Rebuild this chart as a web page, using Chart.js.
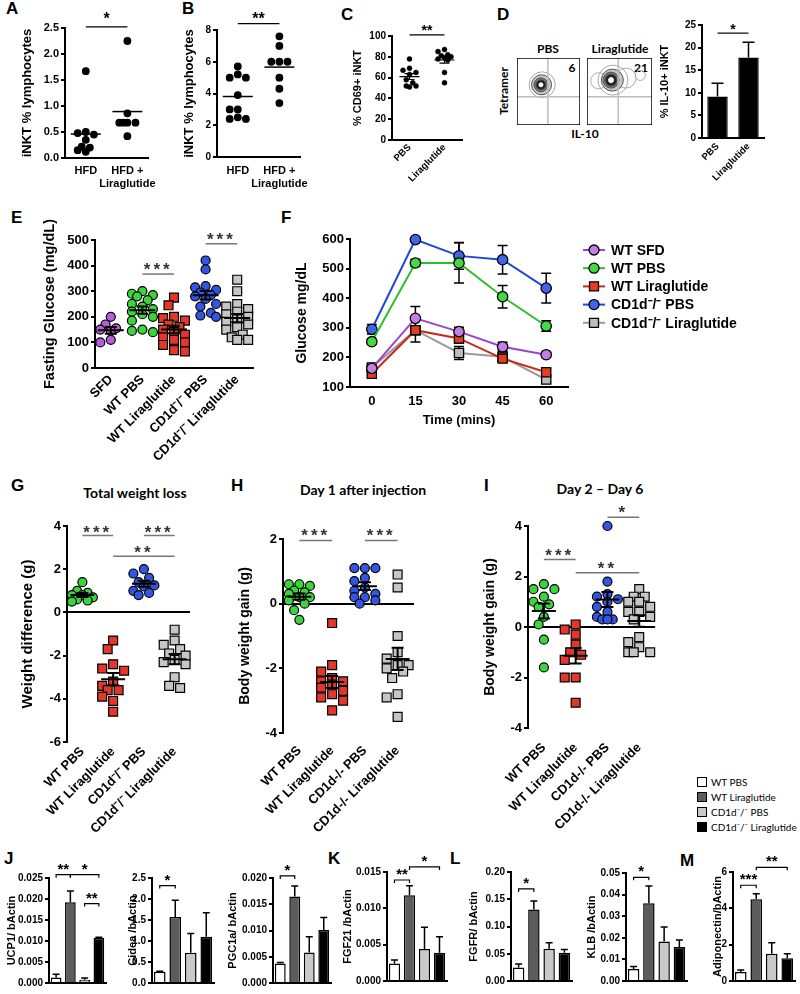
<!DOCTYPE html>
<html>
<head>
<meta charset="utf-8">
<title>Liraglutide iNKT figure</title>
<script src="https://cdn.jsdelivr.net/npm/chart.js@4.4.1/dist/chart.umd.min.js"></script>
<style>
  body { margin: 0; background: #fff; }
  #page { position: relative; width: 800px; height: 994px; overflow: hidden; background: #fff; font-family: "Liberation Sans", Arial, sans-serif; }
  #page canvas { position: absolute; }
  .t { position: absolute; white-space: nowrap; color: #000; line-height: 1; }
  .letter { font-weight: bold; font-size: 17px; }
  .ptitle { font-family: Lato, "Open Sans", sans-serif; font-weight: bold; font-size: 14px; transform: translate(-50%, -50%); }
  .flow { font-family: Lato, "Open Sans", sans-serif; font-weight: bold; font-size: 12px; transform: translate(-50%, -50%); }
  .leg { position: absolute; font-family: Lato, sans-serif; font-size: 10px; line-height: 1; white-space: nowrap; }
  .leg .box { display: inline-block; width: 8px; height: 8px; border: 1px solid #000; margin-right: 4px; vertical-align: -1px; }
</style>
</head>
<body>
<div id="page">
  <div class="t letter" style="left:6px;top:0px">A</div>
  <div class="t letter" style="left:182px;top:0px">B</div>
  <div class="t letter" style="left:341px;top:6px">C</div>
  <div class="t letter" style="left:497px;top:6px">D</div>
  <div class="t letter" style="left:11px;top:209px">E</div>
  <div class="t letter" style="left:281px;top:209px">F</div>
  <div class="t letter" style="left:11px;top:477px">G</div>
  <div class="t letter" style="left:231px;top:477px">H</div>
  <div class="t letter" style="left:484px;top:477px">I</div>
  <div class="t letter" style="left:4px;top:850px">J</div>
  <div class="t letter" style="left:328px;top:850px">K</div>
  <div class="t letter" style="left:450px;top:850px">L</div>
  <div class="t letter" style="left:680px;top:852px">M</div>

  <div class="t ptitle" style="left:135px;top:493px">Total weight loss</div>
  <div class="t ptitle" style="left:363px;top:490px">Day 1 after injection</div>
  <div class="t ptitle" style="left:600px;top:489px">Day 2 – Day 6</div>

  <div class="t flow" style="left:548px;top:49px">PBS</div>
  <div class="t flow" style="left:620px;top:49px">Liraglutide</div>
  <div class="t flow" style="left:504px;top:91px;transform:translate(-50%,-50%) rotate(-90deg)">Tetramer</div>
  <div class="t flow" style="left:585px;top:134px">IL-10</div>
  <div class="t flow" style="left:572px;top:68px">6</div>
  <div class="t flow" style="left:641px;top:68px">21</div>
</div>
<script>
const FONT = '"Liberation Sans", Arial, sans-serif';

// A, B: iNKT % lymphocytes
const hfdCats = ['HFD', ['HFD +', 'Liraglutide']];
const aHFD = [1.67, 0.5, 0.48, 0.45, 0.35, 0.22, 0.2, 0.15, 0.12];
const aHFDLira = [2.25, 0.86, 0.68, 0.68, 0.68, 0.68, 0.42];
const bHFD = [5.7, 5.2, 5.0, 5.0, 3.9, 3.0, 3.0, 2.5, 2.4, 2.4];
const bHFDLira = [7.6, 7.0, 6.0, 6.0, 6.0, 5.0, 4.3, 3.4];

// C: % CD69+ iNKT
const cCats = ['PBS', 'Liraglutide'];
const cPBS = [78, 69, 67, 65, 63, 58, 55, 52, 52, 51];
const cLira = [87, 85, 82, 81, 80, 79, 78, 77, 65, 55];

// D: % IL-10+ iNKT, plus the two flow plots (x, y in plot fraction, r in px)
const dCats = ['PBS', 'Liraglutide'];
const dIL10 = [9.2, 17.8];
const dIL10Err = [2.9, 3.4];
const flowPBS = [{x: 0.4, y: 0.6, r: 13}, {x: 0.39, y: 0.6, r: 10}, {x: 0.38, y: 0.6, r: 7}, {x: 0.38, y: 0.6, r: 5}, {x: 0.38, y: 0.6, r: 2}];
const flowLira = [{x: 0.82, y: 0.74, r: 5}, {x: 0.6, y: 0.7, r: 10}, {x: 0.18, y: 0.66, r: 8}, {x: 0.4, y: 0.67, r: 15},
                  {x: 0.39, y: 0.67, r: 11}, {x: 0.37, y: 0.67, r: 8}, {x: 0.37, y: 0.67, r: 6}, {x: 0.37, y: 0.67, r: 2.5}];
const flowFill = ['rgba(0,0,0,0)', '#c8c8c8', '#777', '#222', '#fff'];
const flowLiraFill = ['rgba(0,0,0,0)', 'rgba(0,0,0,0)', 'rgba(0,0,0,0)', 'rgba(0,0,0,0)', '#c8c8c8', '#777', '#222', '#fff'];

// E: fasting glucose (mg/dL)
const eCats = ['SFD', 'WT PBS', 'WT Liraglutide', 'CD1d⁻/⁻ PBS', 'CD1d⁻/⁻ Liraglutide'];
const eSFD = [200, 170, 155, 150, 145, 110, 100];
const eWTPBS = [300, 290, 285, 280, 265, 250, 240, 230, 220, 210, 200, 185, 150, 145, 140];
const eWTLira = [275, 245, 200, 195, 185, 170, 160, 150, 140, 130, 120, 110, 100, 90, 70, 65];
const eKOPBS = [420, 385, 320, 315, 305, 295, 285, 280, 270, 250, 240, 215, 205, 200];
const eKOLira = [345, 300, 250, 240, 230, 220, 210, 200, 190, 180, 170, 160, 150, 130, 120, 110, 110];

// F: glucose tolerance (mg/dL) with SEM
const fTimes = ['0', '15', '30', '45', '60'];
const fSFD = [163, 332, 287, 236, 209];
const fSFDErr = [8, 40, 15, 15, 8];
const fPBS = [253, 519, 519, 405, 306];
const fPBSErr = [8, 12, 68, 38, 18];
const fLira = [145, 292, 264, 196, 150];
const fLiraErr = [6, 8, 15, 10, 10];
const fKOPBS = [295, 598, 543, 530, 434];
const fKOPBSErr = [16, 6, 45, 48, 50];
const fKOLira = [166, 292, 215, 202, 125];
const fKOLiraErr = [8, 40, 22, 14, 8];

// G, H, I: weight change (g)
const gCats = ['WT PBS', 'WT Liraglutide', 'CD1d⁻/⁻ PBS', 'CD1d⁻/⁻ Liraglutide'];
const hCats = ['WT PBS', 'WT Liraglutide', 'CD1d-/- PBS', 'CD1d-/- Liraglutide'];
const gWTPBS = [1.4, 1.0, 0.9, 0.8, 0.8, 0.7, 0.6, 0.55, 0.5];
const gWTLira = [-1.3, -1.7, -2.4, -2.6, -2.7, -3.2, -3.4, -3.6, -3.6, -3.9, -4.1, -4.6];
const gKOPBS = [2.0, 1.8, 1.6, 1.4, 1.25, 1.2, 1.0, 0.9, 0.8];
const gKOLira = [-0.8, -1.3, -1.5, -1.7, -1.9, -2.0, -2.2, -2.3, -2.4, -3.0, -3.4, -3.5];
const hWTPBS = [0.6, 0.6, 0.55, 0.4, 0.35, 0.3, 0.2, 0.2, 0.1, 0.0, -0.2, -0.5];
const hWTLira = [-0.6, -1.9, -2.1, -2.3, -2.4, -2.4, -2.5, -2.6, -2.7, -2.8, -2.9, -3.0, -3.3];
const hKOPBS = [1.1, 1.1, 1.1, 0.8, 0.7, 0.5, 0.4, 0.3, 0.2, 0.2, 0.1, 0.0];
const hKOLira = [0.9, 0.5, -1.0, -1.5, -1.7, -1.9, -1.9, -2.0, -2.1, -2.3, -2.8, -2.9, -3.5];
const iWTPBS = [1.7, 1.5, 1.5, 1.2, 1.0, 0.9, 0.8, 0.4, 0.1, -0.5, -1.6];
const iWTLira = [0.1, -0.1, -0.3, -0.7, -1.0, -1.1, -1.3, -2.0, -2.0, -3.0];
const iKOPBS = [4.0, 1.8, 1.3, 1.2, 1.1, 1.0, 0.8, 0.6, 0.4, 0.3, 0.3, 0.3];
const iKOLira = [1.5, 1.2, 1.2, 1.0, 1.0, 0.8, 0.6, 0.6, 0.4, 0.3, -0.4, -0.6, -0.8, -1.0, -1.0, -1.0];

// J-M: qPCR relative to bActin (mean, SEM)
const barGroups = ['WT PBS', 'WT Liraglutide', 'CD1d⁻/⁻ PBS', 'CD1d⁻/⁻ Liraglutide'];
const barColors = ['#ffffff', '#5c5c5c', '#c9c9c9', '#000000'];
const ucp1 = [0.0013, 0.0192, 0.0008, 0.0107];
const ucp1Err = [0.0008, 0.0027, 0.0004, 0.0002];
const cidea = [0.27, 1.57, 0.72, 1.1];
const cideaErr = [0.01, 0.4, 0.46, 0.57];
const pgc1a = [0.0037, 0.0165, 0.0058, 0.0101];
const pgc1aErr = [0.0002, 0.002, 0.003, 0.0024];
const fgf21 = [0.0024, 0.0118, 0.0044, 0.0039];
const fgf21Err = [0.0005, 0.0013, 0.003, 0.0022];
const fgfr = [0.025, 0.131, 0.059, 0.052];
const fgfrErr = [0.006, 0.016, 0.011, 0.006];
const klb = [0.0055, 0.036, 0.0183, 0.0157];
const klbErr = [0.0012, 0.008, 0.0067, 0.0033];
const adipo = [0.5, 4.5, 1.5, 1.25];
const adipoErr = [0.1, 0.3, 0.6, 0.25];

const PURPLE = '#b65ddc', GREEN = '#3bd43b', RED = '#e2372a', BLUE = '#3356e0', GREY = '#c6c6c6';

// ---------- plugins ----------
// spread the dots of one group sideways so they do not sit on top of each other
const swarm = {
  id: 'swarm',
  afterDatasetsUpdate(chart, args, o) {
    if (!o.on) return;
    chart.data.datasets.forEach((ds, i) => {
      const meta = chart.getDatasetMeta(i);
      if (meta.type !== 'scatter') return;
      const r = ds.pointStyle === 'rect' ? ds.pointRadius * 0.75 : ds.pointRadius;
      const d = 2 * r + 1.5;
      const step = d * 0.5, maxOff = o.maxOff || 12;
      const placed = [];
      meta.data.slice().sort((a, b) => a.y - b.y).forEach(p => {
        const cx = p.x;
        let best = 0, bestScore = -1;
        for (let k = 0; k < 40; k++) {
          const off = Math.ceil(k / 2) * (k % 2 ? -1 : 1) * step;
          if (Math.abs(off) > maxOff) break;
          const nx = cx + off;
          const minD = Math.min(Infinity, ...placed.map(q => Math.hypot(q.x - nx, q.y - p.y)));
          if (minD >= d * 0.85) { best = off; break; }
          if (minD > bestScore) { bestScore = minD; best = off; }
        }
        p.x = cx + best;
        placed.push({x: p.x, y: p.y});
      });
    });
  }
};

const meanbar = {
  id: 'meanbar',
  afterDatasetsDraw(chart, args, o) {
    if (!o.on) return;
    const ctx = chart.ctx, xs = chart.scales.x, ys = chart.scales.y;
    ctx.save();
    ctx.strokeStyle = '#000';
    ctx.lineWidth = o.lw || 2;
    chart.data.datasets.forEach(ds => {
      const v = ds.data.map(p => p.y), n = v.length;
      const m = v.reduce((a, b) => a + b, 0) / n;
      const se = Math.sqrt(v.reduce((a, b) => a + (b - m) * (b - m), 0) / (n - 1)) / Math.sqrt(n);
      const cx = xs.getPixelForValue(ds.cat), py = ys.getPixelForValue(m);
      ctx.beginPath();
      ctx.moveTo(cx - o.half, py); ctx.lineTo(cx + o.half, py);
      if (o.sem) {
        const t = ys.getPixelForValue(m + se), b = ys.getPixelForValue(m - se);
        ctx.moveTo(cx, t); ctx.lineTo(cx, b);
        ctx.moveTo(cx - o.cap, t); ctx.lineTo(cx + o.cap, t);
        ctx.moveTo(cx - o.cap, b); ctx.lineTo(cx + o.cap, b);
      }
      ctx.stroke();
    });
    ctx.restore();
  }
};

const sig = {
  id: 'sig',
  afterDraw(chart, args, o) {
    if (!o.items) return;
    const ctx = chart.ctx, xs = chart.scales.x, ys = chart.scales.y;
    ctx.save();
    o.items.forEach(([a, b, v, txt]) => {
      const xa = xs.getPixelForValue(a), xb = xs.getPixelForValue(b), yy = ys.getPixelForValue(v);
      ctx.strokeStyle = o.color || '#000';
      ctx.lineWidth = o.lw || 1.5;
      ctx.beginPath();
      if (o.bracket) {
        ctx.moveTo(xa, yy + 3); ctx.lineTo(xa, yy); ctx.lineTo(xb, yy); ctx.lineTo(xb, yy + 3);
      } else {
        ctx.moveTo(xa, yy); ctx.lineTo(xb, yy);
      }
      ctx.stroke();
      ctx.fillStyle = o.textColor || '#000';
      ctx.font = 'bold ' + (o.size || 15) + 'px ' + FONT;
      ctx.textAlign = 'center';
      ctx.textBaseline = 'alphabetic';
      ctx.letterSpacing = o.spacing || '0px';
      ctx.fillText(txt, (xa + xb) / 2, yy + (o.dy || 0));
    });
    ctx.restore();
  }
};

function drawErr(chart, o) {
  const ctx = chart.ctx, ys = chart.scales.y;
  ctx.save();
  ctx.strokeStyle = '#000';
  ctx.lineWidth = o.lw || 1.5;
  chart.data.datasets.forEach((ds, i) => {
    if (!ds.err) return;
    chart.getDatasetMeta(i).data.forEach((el, j) => {
      const v = ds.data[j], e = ds.err[j];
      const t = ys.getPixelForValue(v + e), b = ys.getPixelForValue(o.up ? v : v - e);
      ctx.beginPath();
      ctx.moveTo(el.x, b); ctx.lineTo(el.x, t);
      ctx.moveTo(el.x - o.cap, t); ctx.lineTo(el.x + o.cap, t);
      if (!o.up) { ctx.moveTo(el.x - o.cap, b); ctx.lineTo(el.x + o.cap, b); }
      ctx.stroke();
    });
  });
  ctx.restore();
}
const errbars = {
  id: 'errbars',
  beforeDatasetsDraw(chart, args, o) { if (o.before) drawErr(chart, o); },
  afterDatasetsDraw(chart, args, o) { if (o.on && !o.before) drawErr(chart, o); }
};

const frame = {
  id: 'frame',
  afterDraw(chart, args, o) {
    if (!o.on) return;
    const a = chart.chartArea, ctx = chart.ctx;
    ctx.save();
    ctx.strokeStyle = '#000'; ctx.lineWidth = 1.5;
    ctx.strokeRect(a.left, a.top, a.right - a.left, a.bottom - a.top);
    ctx.restore();
  }
};

const lineLegend = {
  id: 'lineLegend',
  afterDraw(chart, args, o) {
    if (!o.on) return;
    const ctx = chart.ctx, a = chart.chartArea;
    ctx.save();
    chart.data.datasets.forEach((ds, i) => {
      const x = a.right + o.dx, y = a.top + o.dy + i * o.gap;
      ctx.strokeStyle = ds.borderColor; ctx.lineWidth = 2;
      ctx.beginPath(); ctx.moveTo(x, y); ctx.lineTo(x + 22, y); ctx.stroke();
      ctx.fillStyle = ds.pointBackgroundColor; ctx.strokeStyle = '#000'; ctx.lineWidth = 1.3;
      ctx.beginPath();
      if (ds.pointStyle === 'rect') ctx.rect(x + 11 - 4.5, y - 4.5, 9, 9);
      else ctx.arc(x + 11, y, 5, 0, Math.PI * 2);
      ctx.fill(); ctx.stroke();
      ctx.fillStyle = '#000';
      ctx.font = 'bold ' + o.size + 'px ' + FONT;
      ctx.textAlign = 'left'; ctx.textBaseline = 'middle';
      ctx.fillText(ds.label, x + 28, y + 1);
    });
    ctx.restore();
  }
};

Chart.register(swarm, meanbar, sig, errbars, frame, lineLegend);

// ---------- helpers ----------
const page = document.getElementById('page');

function canvasFor(area, yW, xH, padT, padR, padL) {
  padL = padL || 0;
  const c = document.createElement('canvas');
  const left = area[0] - yW - padL, top = area[1] - padT;
  const w = area[2] + padR - left, h = area[3] + xH - top;
  Object.assign(c.style, {left: left + 'px', top: top + 'px', width: w + 'px', height: h + 'px'});
  c.width = w; c.height = h;
  page.appendChild(c);
  return c;
}

function baseOpts(padT, padR, padL) {
  return {
    responsive: false, animation: false, events: [],
    layout: {padding: {top: padT, right: padR, left: padL || 0, bottom: 0}, autoPadding: false},
    plugins: {legend: {display: false}, tooltip: {enabled: false}}
  };
}

function yScale(o) {
  return {
    min: o.min, max: o.max,
    ticks: {stepSize: o.step, color: '#000', font: {family: FONT, size: o.size, weight: 'bold'}, padding: 2,
            callback: o.fmt || (v => v)},
    grid: {drawOnChartArea: !!o.zero, color: c => (c.tick && c.tick.value === 0) ? '#000' : 'rgba(0,0,0,0)',
           lineWidth: 2, tickColor: '#000', tickLength: 4, tickWidth: 2},
    border: {color: '#000', width: 2},
    title: {display: !!o.title, text: o.title, color: '#000', font: {family: FONT, size: o.tsize, weight: 'bold'}, padding: 0},
    afterFit: s => { s.width = o.w; }
  };
}

function xCat(o) {
  return {
    type: 'category', offset: true,
    ticks: {display: o.show !== false, color: '#000', font: {family: FONT, size: o.size || 11, weight: 'bold'},
            padding: o.pad == null ? 3 : o.pad, maxRotation: o.rot || 0, minRotation: o.rot || 0, autoSkip: false},
    grid: {drawOnChartArea: false, drawTicks: false},
    border: {display: o.border !== false, color: '#000', width: 2},
    title: {display: !!o.title, text: o.title, color: '#000', font: {family: FONT, size: o.tsize || 13, weight: 'bold'}, padding: 0},
    afterFit: s => { s.height = o.h; }
  };
}

function dotPanel(p) {
  const cv = canvasFor(p.area, p.y.w, p.x.h, p.padT, p.padR || 6, p.padL);
  const datasets = p.groups.map((g, i) => ({
    cat: i,
    data: g.vals.map(v => ({x: p.labels[i], y: v})),
    pointStyle: g.style || 'circle',
    pointRadius: g.r,
    pointBackgroundColor: g.color,
    pointBorderColor: '#000',
    pointBorderWidth: g.bw == null ? 1.2 : g.bw,
    clip: false
  }));
  const o = baseOpts(p.padT, p.padR || 6, p.padL);
  o.scales = {x: xCat(p.x), y: yScale(p.y)};
  o.plugins.swarm = {on: true, maxOff: p.spread};
  o.plugins.meanbar = p.mean;
  o.plugins.sig = p.sig;
  return new Chart(cv, {type: 'scatter', data: {labels: p.labels, datasets}, options: o});
}

function barPanel(p) {
  const cv = canvasFor(p.area, p.y.w, p.x.h, p.padT, p.padR || 4, p.padL);
  const o = baseOpts(p.padT, p.padR || 4, p.padL);
  o.scales = {x: xCat(p.x), y: yScale(p.y)};
  o.plugins.errbars = {on: true, up: true, cap: p.cap || 4, lw: 1.5};
  o.plugins.sig = p.sig;
  return new Chart(cv, {
    type: 'bar',
    data: {labels: p.labels, datasets: [{data: p.vals, err: p.errs, backgroundColor: p.colors,
      borderColor: '#000', borderWidth: 1.5, barPercentage: p.bp || 0.75, categoryPercentage: 1}]},
    options: o
  });
}

function flowPanel(area, rings, fills, qx, qy) {
  const cv = canvasFor(area, 0, 0, 0, 0);
  const o = baseOpts(0, 0);
  o.scales = {x: {type: 'linear', min: 0, max: 1, display: false}, y: {min: 0, max: 1, display: false}};
  o.plugins.frame = {on: true};
  const q = c => ({type: 'line', data: c, borderColor: '#bdbdbd', borderWidth: 1.5, pointRadius: 0});
  return new Chart(cv, {
    type: 'bubble',
    data: {datasets: [
      q([{x: qx, y: 0}, {x: qx, y: 1}]),
      q([{x: 0, y: qy}, {x: 1, y: qy}]),
      {data: rings, backgroundColor: fills,
       borderColor: fills.map(f => f === '#fff' ? '#fff' : (f === 'rgba(0,0,0,0)' ? '#aaa' : '#555')), borderWidth: 1}
    ]},
    options: o
  });
}

const fmt = n => (v => Number(v).toFixed(n));
const starGrey = {color: '#777', textColor: '#333', size: 17, spacing: '3px'};

// ---------- A ----------
dotPanel({
  area: [65, 28, 157, 158], padT: 25, labels: hfdCats, spread: 12,
  groups: [{vals: aHFD, color: '#000', r: 3.3}, {vals: aHFDLira, color: '#000', r: 3.3}],
  x: {h: 40, size: 11, pad: 6},
  y: {min: 0, max: 2.5, step: 0.5, size: 11, fmt: fmt(1), title: 'iNKT % lymphocytes', tsize: 13, w: 45},
  mean: {on: true, half: 15, lw: 1.5},
  sig: {items: [[0, 1, 2.52, '*']], size: 16, dy: -3, lw: 1.2}
});

// ---------- B ----------
dotPanel({
  area: [217, 30, 310, 157], padT: 25, labels: hfdCats, spread: 12,
  groups: [{vals: bHFD, color: '#000', r: 3.3}, {vals: bHFDLira, color: '#000', r: 3.3}],
  x: {h: 40, size: 11, pad: 7},
  y: {min: 0, max: 8, step: 2, size: 10, title: 'iNKT % lymphocytes', tsize: 13, w: 35},
  mean: {on: true, half: 15, lw: 1.5},
  sig: {items: [[0, 1, 8.4, '**']], size: 16, dy: 0, lw: 1.2}
});

// ---------- C ----------
dotPanel({
  area: [392, 36, 462, 140], padT: 25, padL: 24, labels: cCats, spread: 9,
  groups: [{vals: cPBS, color: '#000', r: 2.5, bw: 0.5}, {vals: cLira, color: '#000', r: 2.5, bw: 0.5}],
  x: {h: 60, size: 9.5, rot: 45, pad: 2},
  y: {min: 0, max: 100, step: 20, size: 10, title: '% CD69+ iNKT', tsize: 11, w: 41},
  mean: {on: true, sem: true, half: 10, cap: 5, lw: 1.2},
  sig: {items: [[0, 1, 101, '**']], size: 14, dy: 0, lw: 1.2}
});

// ---------- D ----------
flowPanel([517, 58, 580, 125], flowPBS, flowFill, 0.49, 0.42);
flowPanel([587, 58, 652, 125], flowLira, flowLiraFill, 0.48, 0.42);
barPanel({
  area: [702, 25, 764, 138], padT: 22, padL: 24, labels: dCats, vals: dIL10, errs: dIL10Err,
  colors: ['#000', '#000'], bp: 0.66, cap: 6,
  x: {h: 60, size: 9.5, rot: 45, pad: 3},
  y: {min: 0, max: 25, step: 5, size: 10, title: '% IL-10+ iNKT', tsize: 11, w: 44},
  sig: {items: [[0, 1, 23.2, '*']], size: 14, dy: 1, lw: 1.2}
});

// ---------- E ----------
dotPanel({
  area: [95, 240, 253, 368], padT: 40, labels: eCats, spread: 13,
  groups: [
    {vals: eSFD, color: PURPLE, r: 4.5},
    {vals: eWTPBS, color: GREEN, r: 4.5},
    {vals: eWTLira, color: RED, r: 6.3, style: 'rect'},
    {vals: eKOPBS, color: BLUE, r: 4.5},
    {vals: eKOLira, color: GREY, r: 6.3, style: 'rect'}
  ],
  x: {h: 95, size: 13, rot: 45, pad: 4},
  y: {min: 0, max: 500, step: 100, size: 13, title: 'Fasting Glucose (mg/dL)', tsize: 14.5, w: 54},
  mean: {on: true, sem: true, half: 13, cap: 6, lw: 2},
  sig: Object.assign({items: [[1, 2, 367, '***'], [3, 4, 485, '***']], dy: 1}, starGrey)
});

// ---------- F ----------
(function () {
  const area = [350, 239, 568, 387], yW = 56, xH = 41, padT = 10, padR = 200;
  const cv = canvasFor(area, yW, xH, padT, padR);
  const o = baseOpts(padT, padR);
  o.scales = {
    x: xCat({h: xH, size: 13, pad: 7, title: 'Time (mins)', tsize: 13}),
    y: yScale({min: 100, max: 600, step: 100, size: 13, title: 'Glucose mg/dL', tsize: 14, w: yW})
  };
  o.plugins.errbars = {before: true, cap: 5, lw: 1.5};
  o.plugins.lineLegend = {on: true, dx: 15, dy: 11, gap: 18.2, size: 14};
  const line = (label, vals, errs, lineColor, fill, style) => ({
    label, data: vals, err: errs, borderColor: lineColor, borderWidth: 2,
    pointStyle: style, pointRadius: style === 'rect' ? 6.5 : 5.2,
    pointBackgroundColor: fill, pointBorderColor: '#000', pointBorderWidth: 1.3, clip: false
  });
  new Chart(cv, {
    type: 'line',
    data: {labels: fTimes, datasets: [
      line('WT SFD', fSFD, fSFDErr, '#9a45c8', '#c27fe4', 'circle'),
      line('WT PBS', fPBS, fPBSErr, '#2cbf2c', '#44d844', 'circle'),
      line('WT Liraglutide', fLira, fLiraErr, '#c7291a', '#e2401f', 'rect'),
      line('CD1d⁻/⁻ PBS', fKOPBS, fKOPBSErr, '#2346d6', '#3f66ea', 'circle'),
      line('CD1d⁻/⁻ Liraglutide', fKOLira, fKOLiraErr, '#9a9a9a', '#bdbdbd', 'rect')
    ]},
    options: o
  });
})();

// ---------- G ----------
const weightGroups = (a, b, c, d) => [
  {vals: a, color: GREEN, r: 4.5},
  {vals: b, color: RED, r: 6.3, style: 'rect'},
  {vals: c, color: BLUE, r: 4.5},
  {vals: d, color: GREY, r: 6.3, style: 'rect'}
];
dotPanel({
  area: [67, 526, 190, 742], padT: 10, labels: gCats, spread: 11,
  groups: weightGroups(gWTPBS, gWTLira, gKOPBS, gKOLira),
  x: {h: 110, size: 13, rot: 45, pad: 2, border: false},
  y: {min: -6, max: 4, step: 2, size: 13, title: 'Weight difference (g)', tsize: 15, w: 48, zero: true},
  mean: {on: true, sem: true, half: 12, cap: 6, lw: 2},
  sig: Object.assign({items: [[0, 1, 3.56, '***'], [2, 3, 3.56, '***'], [1, 3, 2.6, '**']], dy: 2}, starGrey)
});

// ---------- H ----------
dotPanel({
  area: [283, 539, 414, 733], padT: 20, labels: hCats, spread: 11,
  groups: weightGroups(hWTPBS, hWTLira, hKOPBS, hKOLira),
  x: {h: 115, size: 13, rot: 45, pad: 10, border: false},
  y: {min: -4, max: 2, step: 2, size: 13, title: 'Body weight gain (g)', tsize: 14, w: 46, zero: true},
  mean: {on: true, sem: true, half: 12, cap: 6, lw: 2},
  sig: Object.assign({items: [[0, 1, 1.95, '***'], [2, 3, 1.95, '***']], dy: 0}, starGrey)
});

// ---------- I ----------
dotPanel({
  area: [528, 526, 657, 728], padT: 20, labels: hCats, spread: 11,
  groups: weightGroups(iWTPBS, iWTLira, iKOPBS, iKOLira),
  x: {h: 115, size: 13, rot: 45, pad: 12, border: false},
  y: {min: -4, max: 4, step: 2, size: 13, title: 'Body weight gain (g)', tsize: 14, w: 46, zero: true},
  mean: {on: true, sem: true, half: 12, cap: 6, lw: 2},
  sig: Object.assign({items: [[0, 1, 2.67, '***'], [1, 3, 2.15, '**'], [2, 3, 4.35, '*']], dy: 1}, starGrey)
});

// ---------- J-M ----------
const qpcr = (area, w, vals, errs, max, step, dec, title, items) => barPanel({
  area, padT: 22, labels: barGroups, vals, errs, colors: barColors, bp: 0.75, cap: 3.5,
  x: {h: 2, show: false},
  y: {min: 0, max, step, size: 10, fmt: fmt(dec), title, tsize: 11, w},
  sig: {items, bracket: true, size: 15, dy: -1, lw: 1.2}
});
qpcr([49, 878, 106, 989], 44, ucp1, ucp1Err, 0.025, 0.005, 3, 'UCP1/ bActin',
     [[0, 1, 0.0258, '**'], [1, 3, 0.0258, '*'], [2, 3, 0.0189, '**']]);
qpcr([152, 878, 214, 989], 26, cidea, cideaErr, 2.5, 0.5, 1, 'Cidea /bActin', [[0, 1, 2.32, '*']]);
qpcr([273, 878, 331, 989], 47, pgc1a, pgc1aErr, 0.02, 0.005, 3, 'PGC1a/ bActin', [[0, 1, 0.0204, '*']]);
qpcr([387, 872, 447, 987], 46, fgf21, fgf21Err, 0.015, 0.005, 3, 'FGF21 /bActin',
     [[0, 1, 0.0139, '**'], [1, 3, 0.0157, '*']]);
qpcr([511, 872, 572, 987], 44, fgfr, fgfrErr, 0.2, 0.05, 2, 'FGFR/ bActin', [[0, 1, 0.169, '*']]);
qpcr([626, 873, 687, 987], 41, klb, klbErr, 0.05, 0.01, 2, 'KLB /bActin', [[0, 1, 0.048, '*']]);
qpcr([733, 872, 795, 987], 22, adipo, adipoErr, 6, 2, 0, 'Adiponectin/bActin',
     [[0, 1, 5.27, '***'], [1, 3, 6.26, '**']]);

// legend for the bar panels
barGroups.forEach((g, i) => {
  const d = document.createElement('div');
  d.className = 'leg';
  d.style.left = '697px';
  d.style.top = (777 + i * 15) + 'px';
  d.innerHTML = '<span class="box" style="background:' + barColors[i] + '"></span>' + g;
  page.appendChild(d);
});
</script>
</body>
</html>
